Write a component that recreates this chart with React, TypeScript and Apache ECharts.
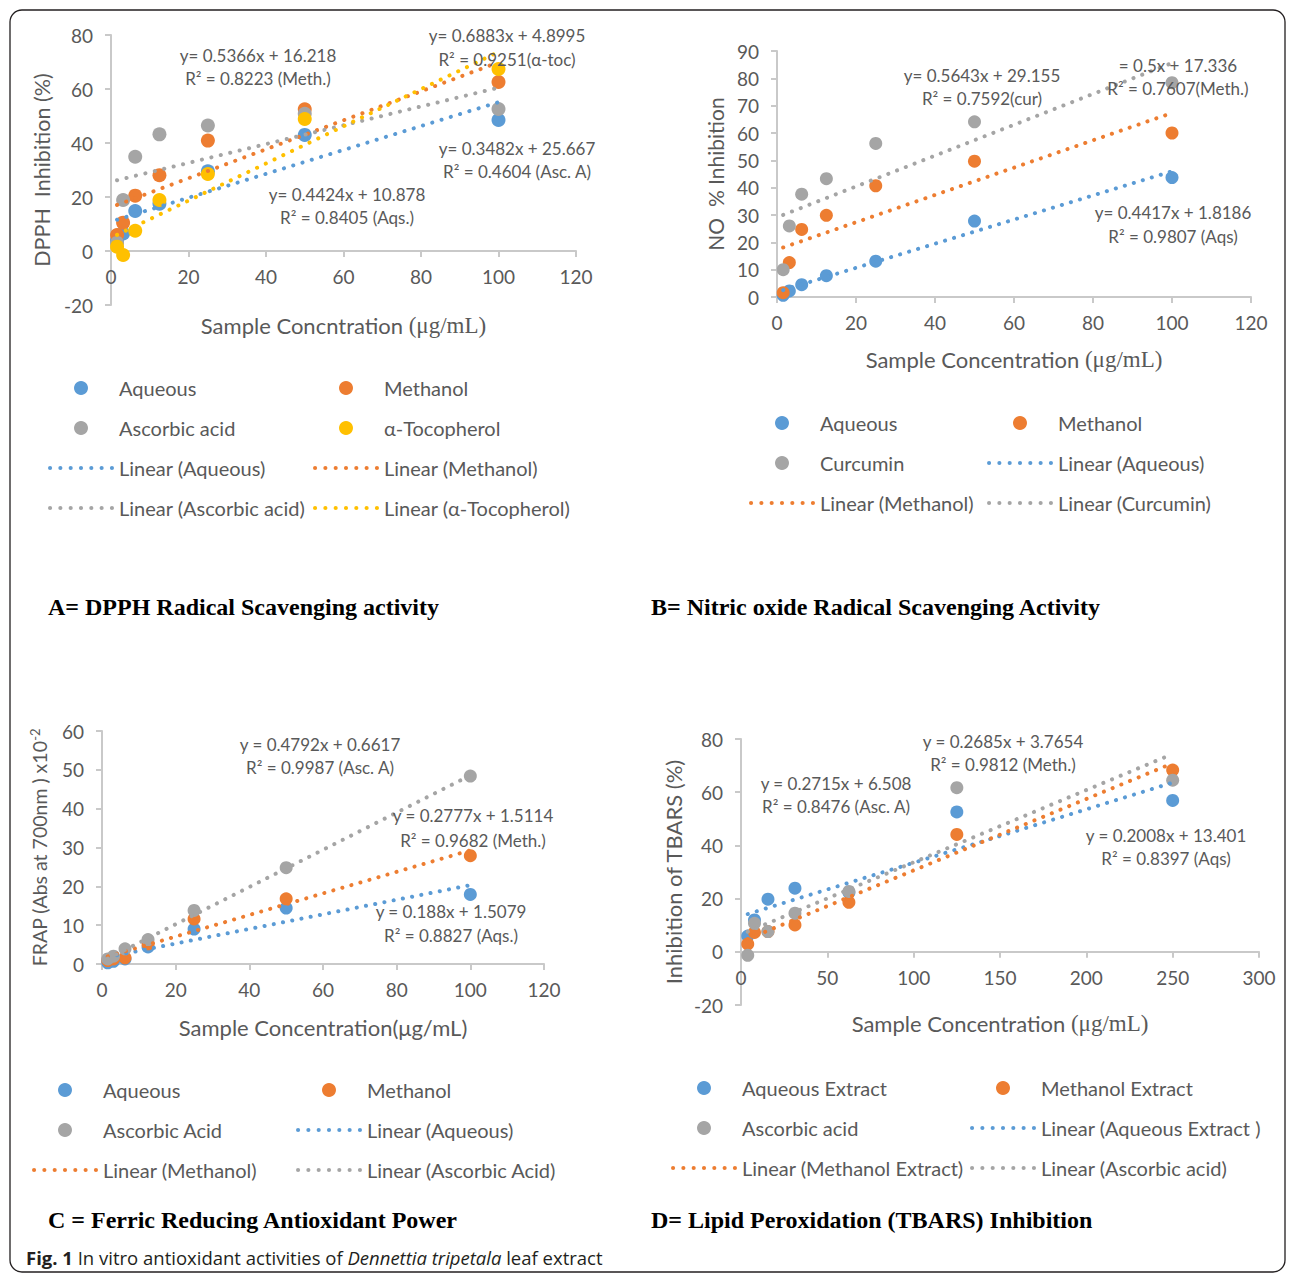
import React, { useEffect, useRef } from 'react';
import * as echarts from 'echarts';

// ---------- data ----------
const concABC = [1.5625, 3.125, 6.25, 12.5, 25, 50, 100];
const concD = [3.90625, 7.8125, 15.625, 31.25, 62.5, 125, 250];

const dpphAqueous = [4.0, 6.5, 14.8, 17.5, 29.5, 43.0, 48.5];
const dpphMethanol = [5.9, 10.5, 20.5, 28.1, 40.9, 52.5, 62.6];
const dpphAscorbic = [3.0, 18.9, 34.9, 43.2, 46.5, 50.8, 52.6];
const dpphTocopherol = [1.6, -1.5, 7.5, 18.9, 28.5, 48.9, 67.4];

const noAqueous = [0.6, 2.2, 4.5, 7.8, 13.1, 27.8, 43.7];
const noMethanol = [1.6, 12.6, 24.7, 29.9, 40.7, 49.7, 60.0];
const noCurcumin = [10.0, 26.0, 37.6, 43.3, 56.2, 64.1, 78.4];

const frapAqueous = [0.3, 0.7, 1.3, 4.4, 9.0, 14.4, 17.9];
const frapMethanol = [0.9, 1.3, 1.6, 5.2, 11.6, 16.8, 27.9];
const frapAscorbic = [1.3, 2.0, 3.9, 6.3, 13.8, 24.8, 48.4];

const tbarsAqueous = [5.9, 12.0, 19.8, 23.9, 22.3, 52.6, 56.9];
const tbarsMethanol = [2.9, 7.3, 7.6, 10.1, 18.6, 44.1, 68.3];
const tbarsAscorbic = [-1.3, 10.7, 7.6, 14.5, 22.7, 61.7, 64.5];

// trendline coefficients [slope, intercept]
const dpphFits = [[0.4424, 10.878], [0.5366, 16.218], [0.3482, 25.667], [0.6883, 4.8995]];
const noFits = [[0.4417, 1.8186], [0.5, 17.336], [0.5643, 29.155]];
const frapFits = [[0.188, 1.5079], [0.2777, 1.5114], [0.4792, 0.6617]];
const tbarsFits = [[0.2008, 13.401], [0.2685, 3.7654], [0.2715, 6.508]];

const xTicksABC = { min: 0, max: 120, interval: 20 };
const xTicksD = { min: 0, max: 300, interval: 50 };
const yTicksA = { min: -20, max: 80, interval: 20 };
const yTicksB = { min: 0, max: 90, interval: 10 };
const yTicksC = { min: 0, max: 60, interval: 10 };
const yTicksD = { min: -20, max: 80, interval: 20 };

const eqA = [
  ['y= 0.5366x + 16.218', 'R² = 0.8223 (Meth.)'],
  ['y= 0.6883x + 4.8995', 'R² = 0.9251(α-toc)'],
  ['y= 0.3482x + 25.667', 'R² = 0.4604 (Asc. A)'],
  ['y= 0.4424x + 10.878', 'R² = 0.8405 (Aqs.)'],
];
const eqB = [
  ['y= 0.5643x + 29.155', 'R² = 0.7592(cur)'],
  ['= 0.5x + 17.336', 'R² = 0.7607(Meth.)'],
  ['y= 0.4417x + 1.8186', 'R² = 0.9807 (Aqs)'],
];
const eqC = [
  ['y = 0.4792x + 0.6617', 'R² = 0.9987 (Asc. A)'],
  ['y = 0.2777x + 1.5114', 'R² = 0.9682 (Meth.)'],
  ['y = 0.188x + 1.5079', 'R² = 0.8827 (Aqs.)'],
];
const eqD = [
  ['y = 0.2685x + 3.7654', 'R² = 0.9812 (Meth.)'],
  ['y = 0.2715x + 6.508', 'R² = 0.8476 (Asc. A)'],
  ['y = 0.2008x + 13.401', 'R² = 0.8397 (Aqs)'],
];

const captions = [
  'A= DPPH Radical Scavenging activity',
  'B= Nitric oxide Radical Scavenging Activity',
  'C = Ferric Reducing Antioxidant Power',
  'D= Lipid Peroxidation (TBARS) Inhibition',
];

// ---------- styles ----------
const BLUE = '#5B9BD5';
const ORANGE = '#ED7D31';
const GRAY = '#A5A5A5';
const YELLOW = '#FFC000';
const TXT = '#595959';
const AXIS = '#C9C9C9';
const FONT = 'Lato, "Open Sans", sans-serif';
const SERIF = '"Liberation Serif", "DejaVu Serif", serif';
const CAPFONT = '"Open Sans", sans-serif';
const DOTS =
  'path://' +
  [0, 1, 2, 3, 4, 5, 6]
    .map((i) => `M${i * 10},2a2,2 0 1,0 4,0a2,2 0 1,0 -4,0Z`)
    .join('');

type Panel = {
  conc: number[];
  scatter: { name: string; values: number[]; color: string }[];
  trends: { name: string; fit: number[]; color: string }[];
  grid: { left: number; top: number; width: number; height: number };
  xTicks: { min: number; max: number; interval: number };
  yTicks: { min: number; max: number; interval: number };
  xName: string;
  yName: string;
  xGap: number;
  yGap: number;
  yNameSize: number;
  dash: number;
};

const panels: Panel[] = [
  {
    conc: concABC,
    scatter: [
      { name: 'Aqueous', values: dpphAqueous, color: BLUE },
      { name: 'Methanol', values: dpphMethanol, color: ORANGE },
      { name: 'Ascorbic acid', values: dpphAscorbic, color: GRAY },
      { name: 'α-Tocopherol', values: dpphTocopherol, color: YELLOW },
    ],
    trends: [
      { name: 'Linear (Aqueous)', fit: dpphFits[0], color: BLUE },
      { name: 'Linear (Methanol)', fit: dpphFits[1], color: ORANGE },
      { name: 'Linear (Ascorbic acid)', fit: dpphFits[2], color: GRAY },
      { name: 'Linear (α-Tocopherol)', fit: dpphFits[3], color: YELLOW },
    ],
    grid: { left: 111, top: 35, width: 465, height: 270 },
    xTicks: xTicksABC,
    yTicks: yTicksA,
    xName: 'Sample Concntration {s|(μg/mL)}',
    yName: 'DPPH  Inhibition (%)',
    xGap: 63,
    yGap: 58,
    yNameSize: 21.5,
    dash: 9.6,
  },
  {
    conc: concABC,
    scatter: [
      { name: 'Aqueous', values: noAqueous, color: BLUE },
      { name: 'Methanol', values: noMethanol, color: ORANGE },
      { name: 'Curcumin', values: noCurcumin, color: GRAY },
    ],
    trends: [
      { name: 'Linear (Aqueous)', fit: noFits[0], color: BLUE },
      { name: 'Linear (Methanol)', fit: noFits[1], color: ORANGE },
      { name: 'Linear (Curcumin)', fit: noFits[2], color: GRAY },
    ],
    grid: { left: 777, top: 51, width: 474, height: 246 },
    xTicks: xTicksABC,
    yTicks: yTicksB,
    xName: 'Sample Concentration {s|(μg/mL)}',
    yName: 'NO  % Inhibition',
    xGap: 51,
    yGap: 51,
    yNameSize: 21,
    dash: 9.3,
  },
  {
    conc: concABC,
    scatter: [
      { name: 'Aqueous', values: frapAqueous, color: BLUE },
      { name: 'Methanol', values: frapMethanol, color: ORANGE },
      { name: 'Ascorbic Acid', values: frapAscorbic, color: GRAY },
    ],
    trends: [
      { name: 'Linear (Aqueous)', fit: frapFits[0], color: BLUE },
      { name: 'Linear (Methanol)', fit: frapFits[1], color: ORANGE },
      { name: 'Linear (Ascorbic Acid)', fit: frapFits[2], color: GRAY },
    ],
    grid: { left: 102, top: 731, width: 442, height: 233 },
    xTicks: xTicksABC,
    yTicks: yTicksC,
    xName: 'Sample Concentration(μg/mL)',
    yName: 'FRAP (Abs at 700nm ) x10{sup|-2}',
    xGap: 52,
    yGap: 52,
    yNameSize: 19.5,
    dash: 9.3,
  },
  {
    conc: concD,
    scatter: [
      { name: 'Aqueous Extract', values: tbarsAqueous, color: BLUE },
      { name: 'Methanol Extract', values: tbarsMethanol, color: ORANGE },
      { name: 'Ascorbic acid', values: tbarsAscorbic, color: GRAY },
    ],
    trends: [
      { name: 'Linear (Aqueous Extract )', fit: tbarsFits[0], color: BLUE },
      { name: 'Linear (Methanol Extract)', fit: tbarsFits[1], color: ORANGE },
      { name: 'Linear (Ascorbic acid)', fit: tbarsFits[2], color: GRAY },
    ],
    grid: { left: 741, top: 739, width: 518, height: 266 },
    xTicks: xTicksD,
    yTicks: yTicksD,
    xName: 'Sample Concentration {s|(μg/mL)}',
    yName: 'Inhibition of TBARS (%)',
    xGap: 60,
    yGap: 57,
    yNameSize: 22,
    dash: 9.3,
  },
];

// legend layout: [left, top, names]
const legendLayout: [number, number, string[]][] = [
  [48, 378, ['Aqueous', 'Ascorbic acid', 'Linear (Aqueous)', 'Linear (Ascorbic acid)']],
  [313, 378, ['Methanol', 'α-Tocopherol', 'Linear (Methanol)', 'Linear (α-Tocopherol)']],
  [749, 413, ['Aqueous', 'Curcumin', 'Linear (Methanol)']],
  [987, 413, ['Methanol', 'Linear (Aqueous)', 'Linear (Curcumin)']],
  [32, 1080, ['Aqueous', 'Ascorbic Acid', 'Linear (Methanol)']],
  [296, 1080, ['Methanol', 'Linear (Aqueous)', 'Linear (Ascorbic Acid)']],
  [671, 1078, ['Aqueous Extract', 'Ascorbic acid', 'Linear (Methanol Extract)']],
  [970, 1078, ['Methanol Extract', 'Linear (Aqueous Extract )', 'Linear (Ascorbic acid)']],
];
const legendPanel = [0, 0, 1, 1, 2, 2, 3, 3];

// equation label positions (centre x, y of first line, y of second line)
const eqPos: number[][][] = [
  [[258, 55, 78], [507, 35, 59], [517, 148, 171], [347, 194, 217]],
  [[982, 75, 98], [1178, 65, 88], [1173, 212, 236]],
  [[320, 744, 767], [473, 815, 840], [451, 911, 935]],
  [[1003, 741, 764], [836, 783, 806], [1166, 835, 858]],
];
const eqTexts = [eqA, eqB, eqC, eqD];
const captionPos = [
  [48, 607],
  [651, 607],
  [48, 1220],
  [651, 1220],
];

function buildOption() {
  const grid: any[] = [];
  const xAxis: any[] = [];
  const yAxis: any[] = [];
  const series: any[] = [];

  panels.forEach((p, i) => {
    grid.push({ ...p.grid, containLabel: false });
    const common = {
      type: 'value',
      gridIndex: i,
      axisLine: { show: true, onZero: false, lineStyle: { color: AXIS, width: 2 } },
      axisTick: { show: true, length: 6, lineStyle: { color: AXIS, width: 2 } },
      splitLine: { show: false },
      nameLocation: 'middle',
    };
    // the x axis crosses the value axis at zero
    const zeroOffset = -p.grid.height * (0 - p.yTicks.min) / (p.yTicks.max - p.yTicks.min);
    xAxis.push({
      ...common,
      ...p.xTicks,
      offset: zeroOffset,
      name: p.xName,
      nameGap: p.xGap,
      nameTextStyle: {
        color: TXT,
        fontSize: 22,
        fontFamily: FONT,
        rich: {
          s: { color: TXT, fontSize: 23, fontFamily: SERIF },
        },
      },
      axisLabel: { color: TXT, fontSize: 19, fontFamily: FONT, margin: 16 },
    });
    yAxis.push({
      ...common,
      ...p.yTicks,
      name: p.yName,
      nameGap: p.yGap,
      nameTextStyle: {
        color: TXT,
        fontSize: p.yNameSize,
        fontFamily: FONT,
        rich: {
          sup: { color: TXT, fontSize: 13, fontFamily: FONT, verticalAlign: 'top', lineHeight: 22 },
        },
      },
      axisLabel: { color: TXT, fontSize: 19, fontFamily: FONT, margin: 18 },
    });
    p.scatter.forEach((s) => {
      series.push({
        type: 'scatter',
        name: s.name,
        xAxisIndex: i,
        yAxisIndex: i,
        symbol: 'circle',
        symbolSize: i === 0 ? 14 : 13,
        itemStyle: { color: s.color, opacity: 1 },
        data: p.conc.map((x, j) => [x, s.values[j]]),
        z: 2,
        silent: true,
      });
    });
    const x0 = Math.min(...p.conc);
    const x1 = Math.max(...p.conc);
    p.trends.forEach((t) => {
      series.push({
        type: 'line',
        name: t.name,
        xAxisIndex: i,
        yAxisIndex: i,
        symbol: 'none',
        color: t.color,
        itemStyle: { color: t.color },
        lineStyle: { color: t.color, width: 4, type: [0.1, p.dash], cap: 'round' },
        data: [
          [x0, t.fit[0] * x0 + t.fit[1]],
          [x1, t.fit[0] * x1 + t.fit[1]],
        ],
        z: 3,
        silent: true,
      });
    });
  });

  const legend = legendLayout.map(([left, top, names], k) => {
    const p = panels[legendPanel[k]];
    return {
      orient: 'vertical',
      left,
      top,
      padding: 0,
      itemWidth: 66,
      itemHeight: 14,
      itemGap: 20,
      selectedMode: false,
      textStyle: { color: TXT, fontSize: 20, fontFamily: FONT, lineHeight: 20 },
      itemStyle: { borderWidth: 0 },
      data: names.map((n) => {
        const sc = p.scatter.find((s) => s.name === n);
        const tr = p.trends.find((t) => t.name === n);
        const color = sc ? sc.color : tr ? tr.color : TXT;
        return {
          name: n,
          icon: sc ? 'circle' : DOTS,
          itemStyle: { color, borderWidth: 0 },
        };
      }),
    };
  });

  const graphic: any[] = [
    {
      type: 'rect',
      shape: { x: 10, y: 10, width: 1275, height: 1262, r: 12 },
      style: { fill: 'none', stroke: '#231f20', lineWidth: 1.3 },
      z: 0,
    },
  ];
  eqTexts.forEach((list, i) => {
    list.forEach((pair, j) => {
      const pos = eqPos[i][j];
      pair.forEach((txt, l) => {
        graphic.push({
          type: 'text',
          x: pos[0],
          y: pos[1 + l],
          z: 10,
          style: {
            text: txt,
            fill: TXT,
            fontSize: 17,
            fontFamily: FONT,
            align: 'center',
            verticalAlign: 'middle',
          },
        });
      });
    });
  });
  captions.forEach((c, i) => {
    graphic.push({
      type: 'text',
      x: captionPos[i][0],
      y: captionPos[i][1],
      style: {
        text: c,
        fill: '#000',
        fontSize: 24,
        fontWeight: 'bold',
        fontFamily: SERIF,
        align: 'left',
        verticalAlign: 'middle',
      },
    });
  });
  graphic.push({
    type: 'text',
    x: 26,
    y: 1257,
    style: {
      text: '{b|Fig. 1} {n|In vitro antioxidant activities of }{i|Dennettia tripetala}{n| leaf extract}',
      fill: '#231f20',
      fontSize: 18.5,
      fontFamily: CAPFONT,
      align: 'left',
      verticalAlign: 'middle',
      rich: {
        b: { fontSize: 18.5, fontFamily: CAPFONT, fontWeight: 'bold', fill: '#231f20' },
        n: { fontSize: 18.5, fontFamily: CAPFONT, fill: '#231f20' },
        i: { fontSize: 18.5, fontFamily: CAPFONT, fontStyle: 'italic', fill: '#231f20' },
      },
    },
  });

  return {
    animation: false,
    backgroundColor: '#ffffff',
    grid,
    xAxis,
    yAxis,
    legend,
    series,
    graphic,
  };
}

export default function App() {
  const ref = useRef<HTMLDivElement>(null);
  useEffect(() => {
    if (!ref.current) return;
    const chart = echarts.init(ref.current, undefined, { renderer: 'svg' });
    chart.setOption(buildOption() as any);
    return () => chart.dispose();
  }, []);
  return (
    <div
      ref={ref}
      style={{ position: 'absolute', left: 0, top: 0, width: 1295, height: 1274 }}
    />
  );
}
